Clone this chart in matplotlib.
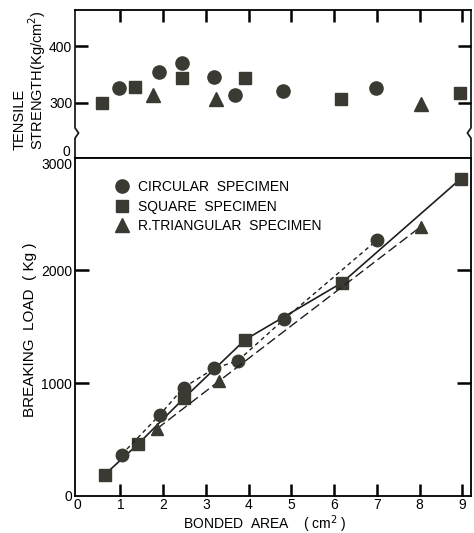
import numpy as np
from matplotlib import pyplot as plt
from matplotlib.lines import Line2D

plt.rcParams['font.family'] = ['Liberation Sans', 'DejaVu Sans']

# tensile strength (upper panel)
ts_circ_x = [0.97, 1.90, 2.44, 3.18, 3.69, 4.80, 6.97]
ts_circ_y = [326, 355, 370, 345, 314, 321, 326]
ts_sq_x = [0.57, 1.34, 2.44, 3.91, 6.15, 8.94]
ts_sq_y = [300, 328, 343, 344, 306, 317]
ts_tri_x = [1.77, 3.24, 8.03]
ts_tri_y = [313, 307, 298]

# breaking load (lower panel)
bl_circ_x = [1.03, 1.93, 2.48, 3.20, 3.75, 4.83, 7.01]
bl_circ_y = [365, 720, 960, 1130, 1198, 1566, 2271]
bl_sq_x = [0.63, 1.42, 2.50, 3.92, 6.19, 8.96]
bl_sq_y = [185, 460, 870, 1385, 1892, 2813]
bl_tri_x = [1.86, 3.30, 8.03]
bl_tri_y = [595, 1015, 2389]

xticks = list(range(10))
ts_ticks = [300, 400]
bl_ticks = [0, 1000, 2000, 3000]
mcol = '#3a3a32'
lcol = '#1e1e1e'


def inward_ticks(ax, xt, yt, xside, hx, hy):
    # tick marks drawn as plain lines pointing into the axes
    xtr = ax.get_xaxis_transform()
    ytr = ax.get_yaxis_transform()
    kw = dict(color='k', lw=1.8, clip_on=False, zorder=5)
    if xside == 'top':
        ax.vlines(xt, 1 - hy, 1, transform=xtr, **kw)
    else:
        ax.vlines(xt, 0, hy, transform=xtr, **kw)
    ax.hlines(yt, 0, hx, transform=ytr, **kw)
    ax.hlines(yt, 1 - hx, 1, transform=ytr, **kw)
    ax.tick_params(length=0)


fig = plt.figure(figsize=(4.74, 5.33), dpi=100)
L, W = 75/474, 396/474
H1, H2 = 147.7/533, 338/533
ax1 = fig.add_axes([L, 1-157.7/533, W, H1])
ax2 = fig.add_axes([L, 1-495.7/533, W, H2])

# ---- upper panel
ax1.plot(ts_circ_x, ts_circ_y, 'o', color=mcol, ms=9.5, ls='')
ax1.plot(ts_sq_x, ts_sq_y, 's', color=mcol, ms=8, ls='')
ax1.plot(ts_tri_x, ts_tri_y, '^', color=mcol, ms=9.5, ls='')
ax1.set_xlim(-0.06, 9.2)
ax1.set_ylim(203, 463.5)
ax1.set_xticks([])
ax1.set_yticks(ts_ticks)
ax1.set_yticklabels([str(v) for v in ts_ticks], fontsize=10)
ax1.tick_params(axis='y', pad=2)
inward_ticks(ax1, xticks[1:], ts_ticks, 'top', 13/396, 12/147.7)
ax1.spines['left'].set_visible(False)
ax1.spines['right'].set_visible(False)
for s in ['top', 'bottom']:
    ax1.spines[s].set_linewidth(1.3)
# broken spines
yb, dy, dx = 0.167, 0.035, 0.009
ax1.plot([0, 0, dx, 0, 0], [1, yb+dy, yb, yb-dy, 0], color=lcol, lw=1.3,
         transform=ax1.transAxes, clip_on=False)
ax1.plot([1, 1, 1-dx, 1, 1], [1, yb+dy, yb, yb-dy, 0], color=lcol, lw=1.3,
         transform=ax1.transAxes, clip_on=False)
ax1.text(-0.012, 0.04, '0', transform=ax1.transAxes, ha='right', va='center',
         fontsize=10)
fig.text(0.064, 1-150/533, 'TENSILE\nSTRENGTH(Kg/cm$^2$)', rotation=90,
         ha='center', va='bottom', multialignment='left', fontsize=10.5,
         linespacing=1.0)

# ---- lower panel
ax2.plot(bl_sq_x, bl_sq_y, 's-', color=lcol, mfc=mcol, mec=mcol, ms=8, lw=1.2)
ax2.plot(bl_circ_x, bl_circ_y, 'o', color=lcol, mfc=mcol, mec=mcol, ms=9,
         lw=1.0, ls=(0, (3, 2.5)))
ax2.plot(bl_tri_x, bl_tri_y, '^', color=lcol, mfc=mcol, mec=mcol, ms=9,
         lw=1.0, ls=(0, (7, 3)))
ax2.set_xlim(-0.06, 9.2)
ax2.set_ylim(0, 3000)
ax2.set_xticks(xticks)
ax2.set_xticklabels([str(v) for v in xticks], fontsize=10)
ax2.tick_params(axis='x', pad=2)
ax2.set_yticks(bl_ticks)
ax2.set_yticklabels([str(v) for v in bl_ticks], fontsize=10)
ax2.tick_params(axis='y', pad=2)
ax2.get_yticklabels()[-1].set_verticalalignment('top')
inward_ticks(ax2, xticks[1:], bl_ticks[1:-1], 'bottom', 14/396, 12/338)
for s in ax2.spines.values():
    s.set_linewidth(1.3)

handles = [Line2D([], [], marker=m, ls='', color=mcol, ms=ms)
           for m, ms in [('o', 9.5), ('s', 8), ('^', 9.5)]]
ax2.legend(handles, ['CIRCULAR  SPECIMEN', 'SQUARE  SPECIMEN',
                     'R.TRIANGULAR  SPECIMEN'],
           loc='upper left', bbox_to_anchor=(0.09, 0.95), frameon=False,
           fontsize=10, handlelength=0.8, handletextpad=0.75, labelspacing=0.4,
           borderaxespad=0)

fig.text(0.558, 1-524/533, 'BONDED  AREA    ( cm$^2$ )', ha='center',
         va='center', fontsize=10)
fig.text(0.064, 1-330/533, 'BREAKING  LOAD  ( Kg )', rotation=90,
         ha='center', va='center', fontsize=11)

fig.savefig('out.png', dpi=100)
